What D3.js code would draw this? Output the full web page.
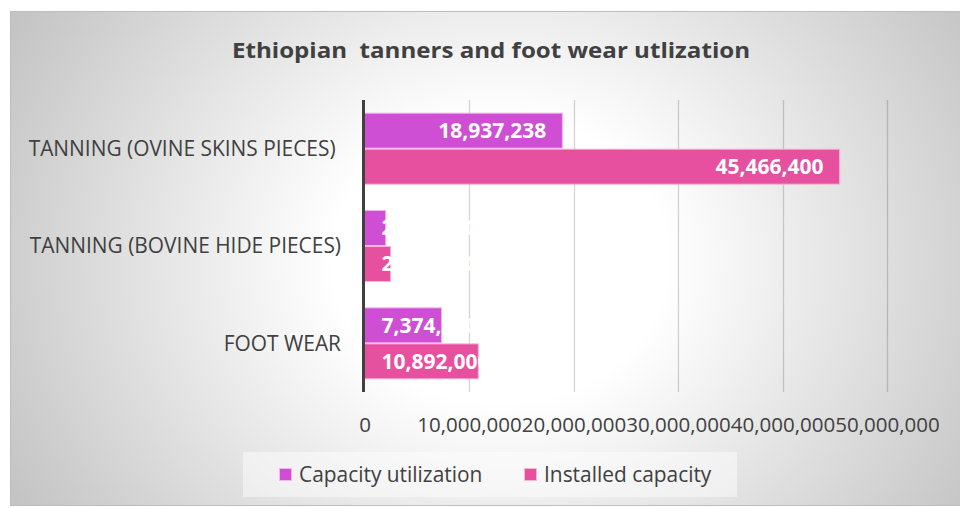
<!DOCTYPE html>
<html>
<head>
<meta charset="utf-8">
<script src="https://cdn.jsdelivr.net/npm/d3@7"></script>
<style>
  html, body { margin: 0; padding: 0; background: #fff; }
  svg { display: block; }
  text { font-family: "Open Sans", "Noto Sans", sans-serif; }
</style>
</head>
<body>
<svg id="chart" width="960" height="508"></svg>
<script>
// Categories (top to bottom) and the two series
const categories = ["TANNING (OVINE SKINS PIECES) ", "TANNING (BOVINE HIDE PIECES)", "FOOT WEAR"];
const seriesNames = ["Capacity utilization", "Installed capacity"];
const capacityUtilization = [18937238, 2030000, 7374000];
const installedCapacity = [45466400, 2500000, 10892000];
const xTickValues = [0, 10000000, 20000000, 30000000, 40000000, 50000000];
const titleText = "Ethiopian  tanners and foot wear utlization";

const colors = ["#cf4fd4", "#e6509e"];
const strokes = ["#f0b6f2", "#f7b6d6"];

const svg = d3.select("#chart");
const W = 960, H = 508;

// background: radial grey-to-white fill inside a thin frame
const defs = svg.append("defs");
const rg = defs.append("radialGradient").attr("id", "bg")
  .attr("gradientUnits", "userSpaceOnUse")
  .attr("cx", 500).attr("cy", 260).attr("r", 560)
  .attr("gradientTransform", "translate(500,260) scale(1,0.85) translate(-500,-260)");
rg.append("stop").attr("offset", "0%").attr("stop-color", "#ffffff");
rg.append("stop").attr("offset", "30%").attr("stop-color", "#ffffff");
rg.append("stop").attr("offset", "100%").attr("stop-color", "#c4c4c4");

svg.append("rect").attr("x", 10.5).attr("y", 11.5).attr("width", W).attr("height", 494)
  .attr("fill", "url(#bg)").attr("stroke", "#bdbdbd").attr("stroke-width", 1);

// title
svg.append("text").attr("x", 491).attr("y", 58).attr("text-anchor", "middle")
  .attr("font-size", 22).attr("font-weight", 700).attr("fill", "#404040")
  .style("white-space", "pre")
  .attr("textLength", 518).attr("lengthAdjust", "spacingAndGlyphs")
  .text(titleText);

// scales
const x = d3.scaleLinear().domain([0, 50000000]).range([364.5, 887]);
const y = d3.scaleBand().domain(categories).range([100, 392]).paddingInner(0.26).paddingOuter(0.13);
const ys = d3.scaleBand().domain(seriesNames).range([0, y.bandwidth()]);

// vertical gridlines
svg.append("g").selectAll("line").data(xTickValues.slice(1)).join("line")
  .attr("x1", d => Math.round(x(d)) + 0.5).attr("x2", d => Math.round(x(d)) + 0.5)
  .attr("y1", 100).attr("y2", 392)
  .attr("stroke", "#000").attr("stroke-opacity", 0.17).attr("stroke-width", 1.3);

// bars
const rows = categories.map((c, i) => ({
  cat: c,
  vals: [
    { s: seriesNames[0], v: capacityUtilization[i], k: 0 },
    { s: seriesNames[1], v: installedCapacity[i], k: 1 }
  ]
}));

const fmt = d3.format(",");
const g = svg.append("g");
const groups = g.selectAll("g.cat").data(rows).join("g")
  .attr("class", "cat")
  .attr("transform", d => `translate(0,${y(d.cat)})`);

groups.selectAll("rect").data(d => d.vals).join("rect")
  .attr("x", x(0))
  .attr("y", d => ys(d.s) + 0.5)
  .attr("width", d => x(d.v) - x(0))
  .attr("height", ys.bandwidth() - 1)
  .attr("fill", d => colors[d.k])
  .attr("stroke", d => strokes[d.k])
  .attr("stroke-width", 1);

// value labels: inside end when they fit, otherwise from the base
groups.selectAll("text.val").data(d => d.vals).join("text")
  .attr("class", "val")
  .attr("y", d => ys(d.s) + ys.bandwidth() / 2)
  .attr("dy", "0.35em")
  .attr("font-size", 21).attr("font-weight", 700).attr("fill", "#ffffff")
  .text(d => fmt(d.v))
  .each(function(d) {
    const t = d3.select(this);
    const w = this.getComputedTextLength();
    const bw = x(d.v) - x(0);
    if (w + 34 <= bw) {
      t.attr("x", x(d.v) - 16).attr("text-anchor", "end");
    } else {
      t.attr("x", x(0) + 17).attr("text-anchor", "start");
    }
  });

// category axis line
svg.append("line").attr("x1", 363.5).attr("x2", 363.5).attr("y1", 100).attr("y2", 392)
  .attr("stroke", "#404040").attr("stroke-width", 3);

// category labels
svg.append("g").selectAll("text").data(categories).join("text")
  .attr("x", 341).attr("y", d => y(d) + y.bandwidth() / 2)
  .attr("dy", "0.35em").attr("text-anchor", "end")
  .style("white-space", "pre")
  .attr("font-size", 20.9).attr("fill", "#404040")
  .text(d => d);

// value axis tick labels
const xAxis = d3.axisBottom(x).tickValues(xTickValues).tickFormat(fmt).tickSize(0).tickPadding(0);
const ax = svg.append("g").attr("transform", "translate(0,418)").call(xAxis);
ax.select(".domain").remove();
ax.selectAll("text").attr("font-size", 20.5).attr("fill", "#404040")
  .attr("font-family", "\"Open Sans\", sans-serif").attr("dy", "0.35em").attr("y", 7);

// legend
const lg = svg.append("g");
lg.append("rect").attr("x", 243).attr("y", 452).attr("width", 494).attr("height", 45)
  .attr("fill", "#ffffff").attr("fill-opacity", 0.45);
const legendX = [279, 524];
seriesNames.forEach((s, i) => {
  lg.append("rect").attr("x", legendX[i] + 0.5).attr("y", 468.5).attr("width", 12).attr("height", 12)
    .attr("fill", colors[i]).attr("stroke", strokes[i]).attr("stroke-width", 1);
  lg.append("text").attr("x", legendX[i] + 20).attr("y", 475).attr("dy", "0.35em")
    .attr("font-size", 20.9).attr("fill", "#404040").text(s);
});
</script>
</body>
</html>
